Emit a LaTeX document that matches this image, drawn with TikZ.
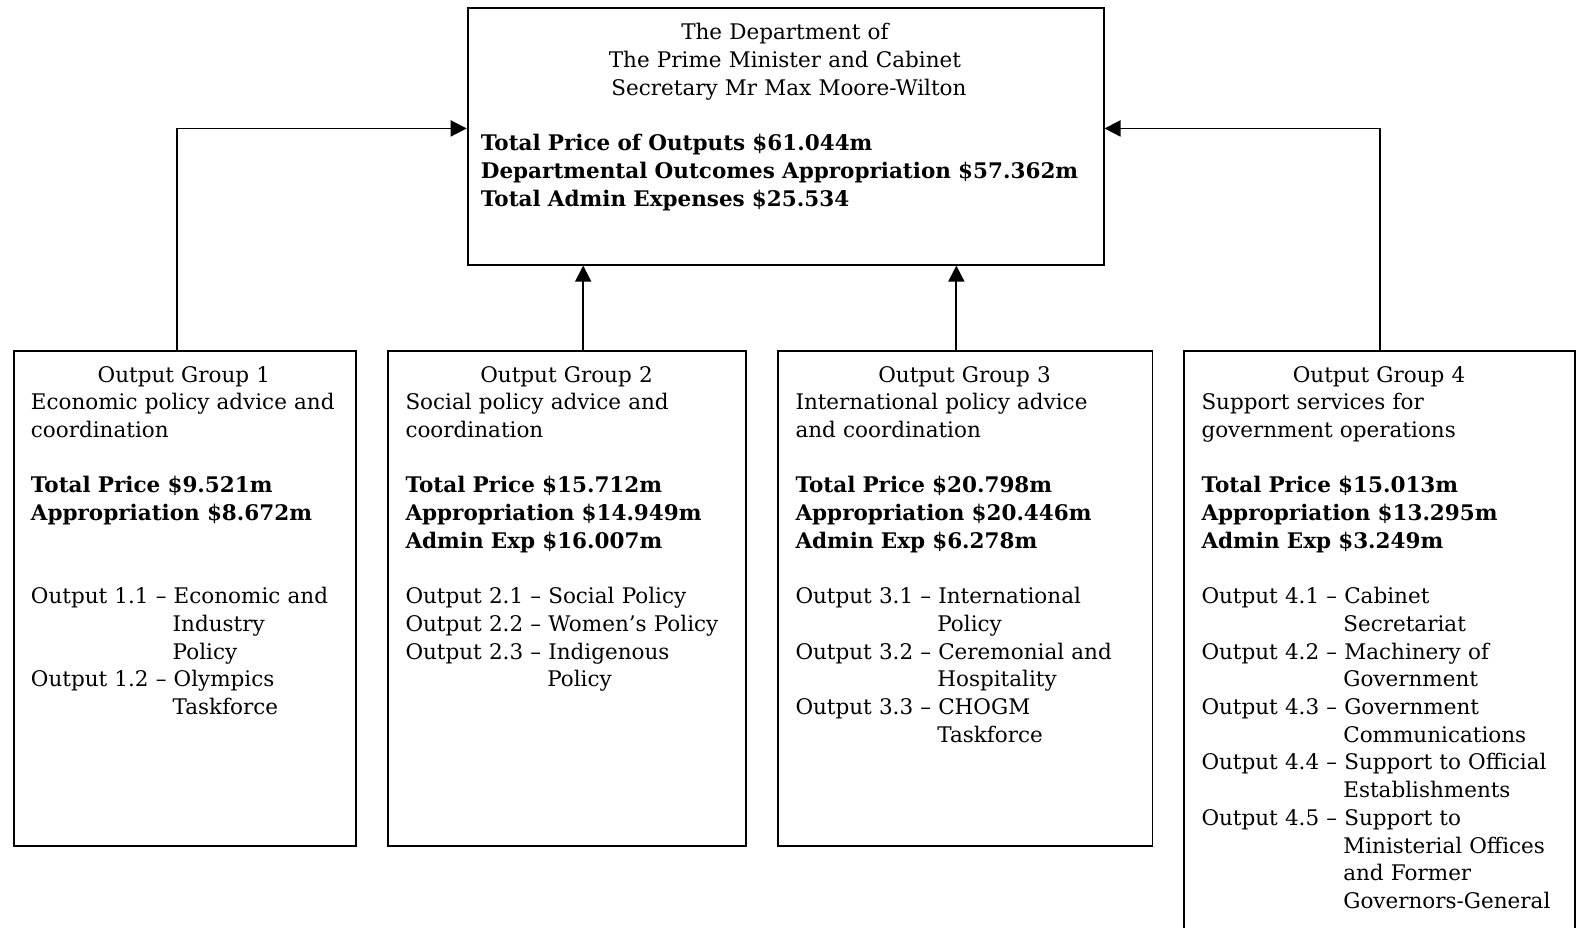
\documentclass[tikz,border=0pt]{standalone}
\usepackage{fontspec}
\setmainfont{DejaVu Serif}
\usetikzlibrary{arrows.meta,positioning}
\newlength\outind
\AtBeginDocument{\settowidth{\outind}{\fontsize{21.5}{27.7}\selectfont Output 1.1 – }}
\newcommand\hd[1]{\makebox[\linewidth]{#1}}
\newcommand\cont{\hspace*{\outind}}
\tikzset{
  frame/.style={rectangle, draw, line width=1.8pt, anchor=north west, inner sep=0pt},
  txt/.style={align=left, inner sep=0pt, font=\fontsize{21.5}{27.7}\selectfont},
  arr/.style={-{Triangle[length=16pt,width=16pt]}, line width=1.8pt},
}

\begin{document}
\begin{tikzpicture}[x=1pt, y=-1pt]
  \useasboundingbox (0,0) rectangle (1582,928);
  \clip (0,0) rectangle (1582,928);

  % department
  \node[frame, minimum width=636pt, minimum height=256.5pt] (dept) at (466.7,7.3) {};
  \node[txt, text width=615pt, below right=16pt and 14pt of dept.north west] (depttxt) {%
    \makebox[608pt]{The Department of}\\
    \makebox[608pt]{The Prime Minister and Cabinet}\\
    \makebox[608pt]{\hspace{8pt}Secretary Mr Max Moore-Wilton}\\[27.7pt]
    \textbf{Total Price of Outputs \$61.044m}\\
    \textbf{Departmental Outcomes Appropriation \$57.362m}\\
    \textbf{Total Admin Expenses \$25.534}};

  % output groups
  \node[frame, minimum width=342pt, minimum height=495pt] (g1) at (12.7,350) {};
  \node[frame, minimum width=358pt, minimum height=495pt] (g2) at (387.3,350) {};
  \node[frame, minimum width=374.3pt, minimum height=495pt] (g3) at (777.3,350) {};
  \node[frame, minimum width=391pt, minimum height=620pt] (g4) at (1183.3,350) {};

  \node[txt, text width=306pt, below right=16pt and 18pt of g1.north west] (g1txt) {%
    \hd{Output Group 1}\\
    Economic policy advice and\\
    coordination\\[27.7pt]
    \textbf{Total Price \$9.521m}\\
    \textbf{Appropriation \$8.672m}\\[55.4pt]
    Output 1.1 – Economic and\\
    \cont Industry\\
    \cont Policy\\
    Output 1.2 – Olympics\\
    \cont Taskforce};
  \node[txt, text width=322pt, below right=16pt and 18pt of g2.north west] (g2txt) {%
    \hd{Output Group 2}\\
    Social policy advice and\\
    coordination\\[27.7pt]
    \textbf{Total Price \$15.712m}\\
    \textbf{Appropriation \$14.949m}\\
    \textbf{Admin Exp \$16.007m}\\[27.7pt]
    Output 2.1 – Social Policy\\
    Output 2.2 – Women’s Policy\\
    Output 2.3 – Indigenous\\
    \cont Policy};
  \node[txt, text width=338pt, below right=16pt and 18pt of g3.north west] (g3txt) {%
    \hd{Output Group 3}\\
    International policy advice\\
    and coordination\\[27.7pt]
    \textbf{Total Price \$20.798m}\\
    \textbf{Appropriation \$20.446m}\\
    \textbf{Admin Exp \$6.278m}\\[27.7pt]
    Output 3.1 – International\\
    \cont Policy\\
    Output 3.2 – Ceremonial and\\
    \cont Hospitality\\
    Output 3.3 – CHOGM\\
    \cont Taskforce};
  \node[txt, text width=370pt, below right=16pt and 18pt of g4.north west] (g4txt) {%
    \makebox[355pt]{Output Group 4}\\
    Support services for\\
    government operations\\[27.7pt]
    \textbf{Total Price \$15.013m}\\
    \textbf{Appropriation \$13.295m}\\
    \textbf{Admin Exp \$3.249m}\\[27.7pt]
    Output 4.1 – Cabinet\\
    \cont Secretariat\\
    Output 4.2 – Machinery of\\
    \cont Government\\
    Output 4.3 – Government\\
    \cont Communications\\
    Output 4.4 – Support to Official\\
    \cont Establishments\\
    Output 4.5 – Support to\\
    \cont Ministerial Offices\\
    \cont and Former\\
    \cont Governors-General};

  % links
  \coordinate (a2) at ([xshift=16pt]g2.north);
  \coordinate (a3) at ([xshift=-9pt]g3.north);
  \draw[arr] ([xshift=-8pt]g1.north) |- ([yshift=8pt]dept.west);
  \draw[arr] (a2) -- (a2 |- dept.south);
  \draw[arr] (a3) -- (a3 |- dept.south);
  \draw[arr] (g4.north) |- ([yshift=8pt]dept.east);
\end{tikzpicture}
\end{document}
